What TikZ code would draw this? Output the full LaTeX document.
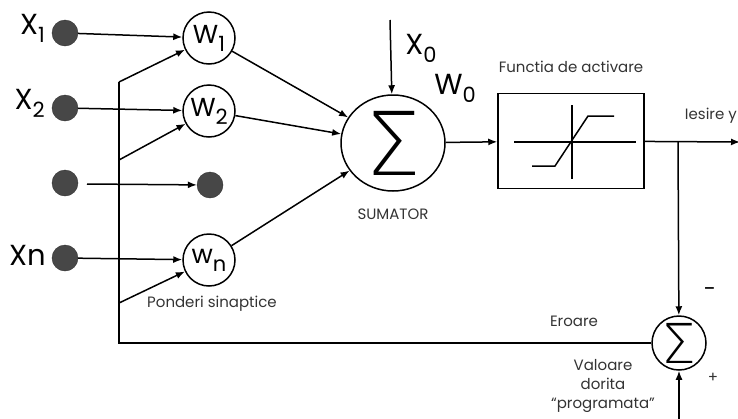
\documentclass[tikz,border=0pt]{standalone}
\usepackage{fontspec}
\setmainfont{Poppins}
\newfontfamily\sigmafont{DejaVu Sans ExtraLight}
\usetikzlibrary{arrows.meta,shapes.geometric}
\newcommand{\lowsub}[1]{\lower8pt\hbox{\fontsize{21}{21}\selectfont #1}}
\tikzset{
    in-dot/.style = {circle, fill=black!72, draw=black!80, minimum size=26pt, inner sep=0pt},
    weight-circle/.style = {circle, draw, line width=1.5pt, minimum size=52pt, inner sep=0pt, font=\fontsize{26}{26}\selectfont},
    big-label/.style = {font=\fontsize{29}{29}\selectfont, inner sep=0pt},
    small-label/.style = {font=\fontsize{15}{19}\selectfont, text=black!80, inner sep=0pt, align=center},
    wire/.style = {line width=1.5pt},
    arrow-wire/.style = {wire, -{Latex[length=9pt,width=7pt]}},
}
\begin{document}
\begin{tikzpicture}[x=1pt,y=-1pt]
\useasboundingbox (0,0) rectangle (738,418);
% intrari
\node[in-dot] (x1) at (65,33) {};
\node[in-dot] (x2) at (65,108) {};
\node[in-dot] (x3) at (65,183) {};
\node[in-dot] (xn) at (65,258) {};
\node[big-label, anchor=east] at (45,28) {X\lowsub{1}};
\node[big-label, anchor=east] at (45,103) {X\lowsub{2}};
\node[big-label, anchor=east] at (46,255) {Xn};
% ponderi
\node[weight-circle] (w1) at (209,38) {W\lowsub{1}};
\node[weight-circle] (w2) at (209,111) {W\lowsub{2}};
\node[in-dot] (w3) at (210,185) {};
\node[weight-circle] (wn) at (209,260) {w\lowsub{n}};
\node[small-label] (ponderi) at (212,304) {Ponderi sinaptice};
\draw[arrow-wire] (x1) -- (w1);
\draw[arrow-wire] (x2) -- (w2);
\draw[arrow-wire] (87,184) -- (w3);
\draw[arrow-wire] (xn) -- (wn);
% sumator
\node[ellipse, draw, wire, minimum width=104pt, minimum height=96pt, inner sep=0pt,
      font=\sigmafont\fontsize{88}{88}\selectfont] (sum) at (393,143) {Σ};
\node[small-label] at (393,214) {SUMATOR};
\coordinate (x0top) at (390,20);
\draw[arrow-wire] (x0top) -- (sum);
\node[big-label] at (421,48) {X\lowsub{0}};
\node[big-label] at (455,88) {W\lowsub{0}};
\draw[arrow-wire] (w1) -- (sum);
\draw[arrow-wire] (w2) -- (sum);
\draw[arrow-wire] (wn) -- (sum);
% functia de activare
\node[draw, wire, minimum width=146pt, minimum height=95pt] (act) at (571,141) {};
\node[small-label] at (571,67) {Functia de activare};
\draw[wire] (514,142) -- (636,142) (572,105) -- (572,179);
\draw[wire] (532,166) -- (555,166) -- (588,116) -- (614,116);
\draw[arrow-wire] (sum) -- (act);
\coordinate (iesire) at (740,142);
\coordinate (split) at (678,142);
\draw[arrow-wire] (act) -- (iesire);
\node[small-label, anchor=east] at (737,116) {Iesire y};
% eroare
\node[weight-circle, minimum size=54pt, font=\sigmafont\fontsize{55}{55}\selectfont] (esum) at (679,343) {Σ};
\draw[arrow-wire] (split) -- (esum);
\coordinate (dorit) at (679,420);
\draw[arrow-wire] (dorit) -- (esum);
\node[font=\fontsize{22}{22}\selectfont] at (710,292) {-};
\node[small-label] at (713,378) {+};
\node[small-label] at (574,321) {Eroare};
\node[small-label] at (603,386) {Valoare\\dorita\\``programata''};
\coordinate (c1) at (119,82);
\coordinate (c2) at (119,160);
\coordinate (c3) at (119,303);
\draw[wire] (esum) -- (119,343) -- (c1);
\draw[arrow-wire] (c1) -- (w1);
\draw[arrow-wire] (c2) -- (w2);
\draw[arrow-wire] (c3) -- (wn);
\end{tikzpicture}
\end{document}
